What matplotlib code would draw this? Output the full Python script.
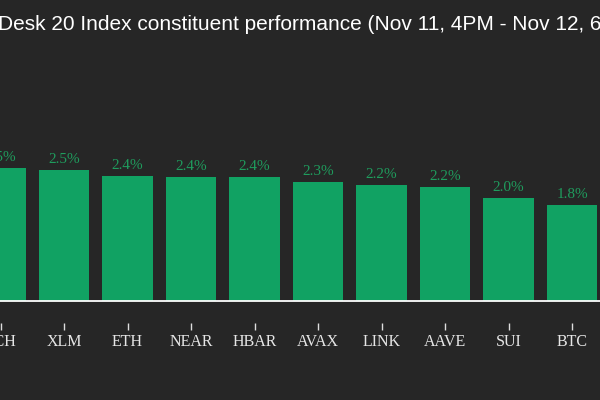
import matplotlib

matplotlib.use("Agg")

import matplotlib.pyplot as plt

# Constituent performance, in percent (the view is cropped at both edges)
symbols = ["BCH", "XLM", "ETH", "NEAR", "HBAR", "AVAX", "LINK", "AAVE", "SUI", "BTC"]
returns = [2.51, 2.48, 2.37, 2.35, 2.35, 2.25, 2.20, 2.16, 1.95, 1.81]
labels = ["2.5%", "2.5%", "2.4%", "2.4%", "2.4%", "2.3%", "2.2%", "2.2%", "2.0%", "1.8%"]

BG = "#262626"
BAR = "#11a263"
LABEL = "#1f9c5d"

W, H = 600, 400
fig = plt.figure(figsize=(6, 4), dpi=100, facecolor=BG)

# Pixel layout of the visible window
base_px = 301      # zero line, from top
bottom_px = 323    # axes bottom (where ticks start)
top_px = 60
px_per_pct = 52.8
step_px = 63.5
first_center_px = 0.5

ax = fig.add_axes([0, (H - bottom_px) / H, 1, (bottom_px - top_px) / H])
ax.set_facecolor(BG)

x = list(range(len(symbols)))
ax.bar(x, returns, width=0.8, color=BAR, zorder=2)
for xi, v, lab in zip(x, returns, labels):
    ax.annotate(lab, xy=(xi, v), xytext=(0, 3), textcoords="offset points",
                ha="center", va="bottom", color=LABEL, fontsize=11,
                family="Liberation Serif", annotation_clip=False)

ax.axhline(0, color="white", linewidth=1.3, zorder=3)

ax.set_xticks(x)
ax.set_xticklabels(symbols, family="Liberation Serif", fontsize=11.5, color="#e6e6e6")
ax.tick_params(axis="x", direction="out", length=5, width=1, color="#dddddd", pad=3)
ax.set_yticks([])
for side in ["top", "bottom", "left", "right"]:
    ax.spines[side].set_visible(False)

# set limits after the ticks, which would otherwise widen the view
ax.set_xlim((0 - first_center_px) / step_px, (W - first_center_px) / step_px)
ax.set_ylim(-(bottom_px - base_px) / px_per_pct, (base_px - top_px) / px_per_pct)

# Title is centred on the full chart, so only the middle part shows here
fig.text(-2 / W, 1 - 30 / H, "Desk 20 Index constituent performance (Nov 11, 4PM - Nov 12, 6AM ET)",
         ha="left", va="baseline", color="white", fontsize=15, family="Liberation Sans")

fig.savefig("out.png", dpi=100, facecolor=BG)
